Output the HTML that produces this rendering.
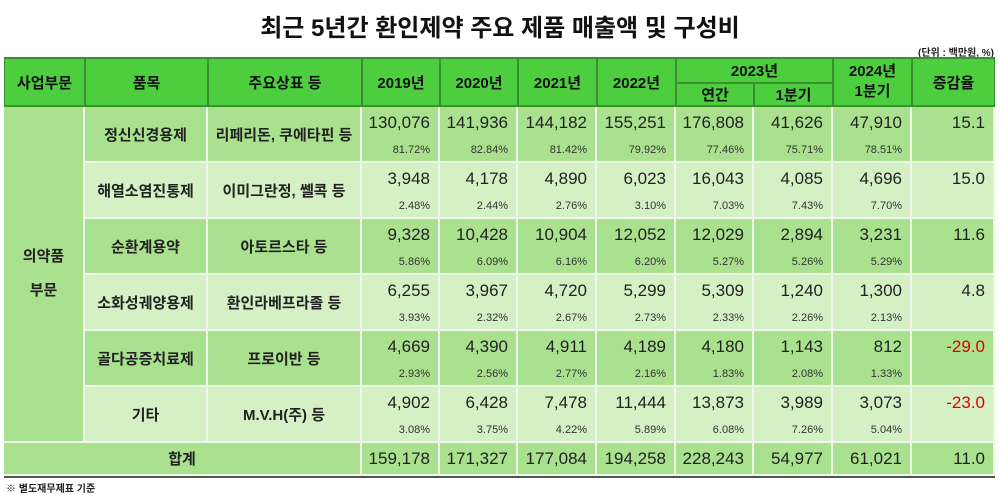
<!DOCTYPE html>
<html><head><meta charset="utf-8"><style>
body{margin:0;width:1000px;height:495px;background:#fff;font-family:"Liberation Sans","Noto Sans CJK KR",sans-serif;position:relative;overflow:hidden;color:#222}
.a{position:absolute}
.t{left:0;width:1000px;top:8px;text-align:center;font-size:24px;font-weight:bold;color:#111}
.unit{right:6px;top:44px;font-size:10px;font-weight:bold}
.h{background:#4cce3f;border:1px solid #3a8f30;box-sizing:border-box;display:flex;align-items:center;justify-content:center;font-weight:bold;font-size:15px;color:#111}
.c{box-sizing:border-box;border-right:2px solid #eef8e8;border-bottom:2px solid #eef8e8}
.n{font-size:17px;text-align:right;color:#222}
.p{font-size:11px;text-align:right;color:#333}
.nm{display:flex;align-items:center;justify-content:center;font-weight:bold;font-size:15px}
</style></head><body>
<div class="a t">최근 5년간 환인제약 주요 제품 매출액 및 구성비</div>
<div class="a unit">(단위 : 백만원, %)</div>
<div class="a" style="left:4px;top:57px;width:991px;height:50px;background:#3a8f30"></div>
<div id="g"></div>
<div class="a" style="left:4px;top:476px;width:991px;height:2px;background:#555"></div>
<div class="a" style="left:6px;top:480px;font-size:10px;font-weight:bold">※ 별도재무제표 기준</div>
<script>
const X=[4,85,208,362,440,518,597,676,754,833,912,995];
let h='';
function hd(x1,x2,y1,y2,t){h+=`<div class="a h" style="left:${x1}px;top:${y1}px;width:${x2-x1}px;height:${y2-y1}px">${t}</div>`}
const ht=['사업부문','품목','주요상표 등','2019년','2020년','2021년','2022년'];
for(let i=0;i<7;i++)hd(X[i],X[i+1],58,106,ht[i]);
hd(676,833,58,83,'2023년');hd(676,754,83,106,'연간');hd(754,833,83,106,'1분기');
hd(833,912,58,106,'<span style="text-align:center;line-height:20px">2024년<br>1분기</span>');hd(912,995,58,106,'증감율');
const rows=[
['정신신경용제','리페리돈, 쿠에타핀 등',['130,076','141,936','144,182','155,251','176,808','41,626','47,910'],['81.72%','82.84%','81.42%','79.92%','77.46%','75.71%','78.51%'],'15.1'],
['해열소염진통제','이미그란정, 쎌콕 등',['3,948','4,178','4,890','6,023','16,043','4,085','4,696'],['2.48%','2.44%','2.76%','3.10%','7.03%','7.43%','7.70%'],'15.0'],
['순환계용약','아토르스타 등',['9,328','10,428','10,904','12,052','12,029','2,894','3,231'],['5.86%','6.09%','6.16%','6.20%','5.27%','5.26%','5.29%'],'11.6'],
['소화성궤양용제','환인라베프라졸 등',['6,255','3,967','4,720','5,299','5,309','1,240','1,300'],['3.93%','2.32%','2.67%','2.73%','2.33%','2.26%','2.13%'],'4.8'],
['골다공증치료제','프로이반 등',['4,669','4,390','4,911','4,189','4,180','1,143','812'],['2.93%','2.56%','2.77%','2.16%','1.83%','2.08%','1.33%'],'-29.0'],
['기타','M.V.H(주) 등',['4,902','6,428','7,478','11,444','13,873','3,989','3,073'],['3.08%','3.75%','4.22%','5.89%','6.08%','7.26%','5.04%'],'-23.0']];
const Y=[107,163,219,275,331,387,443];
h+=`<div class="a c nm" style="left:4px;top:107px;width:81px;height:336px;background:#a9e18e;line-height:34px;text-align:center">의약품<br>부문</div>`;
rows.forEach((r,i)=>{
 const y=Y[i],H=Y[i+1]-y,bg=i%2?'#d5f0c5':'#a9e18e';
 h+=`<div class="a c nm" style="left:85px;top:${y}px;width:123px;height:${H}px;background:${bg}">${r[0]}</div>`;
 h+=`<div class="a c nm" style="left:208px;top:${y}px;width:154px;height:${H}px;background:${bg}">${r[1]}</div>`;
 for(let j=0;j<7;j++){
  h+=`<div class="a c" style="left:${X[j+3]}px;top:${y}px;width:${X[j+4]-X[j+3]}px;height:${H}px;background:${bg}">
  <div class="a n" style="right:8px;top:6px">${r[2][j]}</div><div class="a p" style="right:8px;top:37px">${r[3][j]}</div></div>`;
 }
 const red=r[4][0]=='-';
 h+=`<div class="a c" style="left:912px;top:${y}px;width:83px;height:${H}px;background:${bg}"><div class="a n" style="right:8px;top:6px;${red?'color:#e00000':''}">${r[4]}</div></div>`;
});
h+=`<div class="a c nm" style="left:4px;top:443px;width:358px;height:33px;background:#a9e18e">합계</div>`;
const tot=['159,178','171,327','177,084','194,258','228,243','54,977','61,021','11.0'];
for(let j=0;j<8;j++)h+=`<div class="a c" style="left:${X[j+3]}px;top:443px;width:${X[j+4]-X[j+3]}px;height:33px;background:#a9e18e"><div class="a n" style="right:8px;top:6px">${tot[j]}</div></div>`;
document.getElementById('g').innerHTML=h;
</script>
</body></html>
